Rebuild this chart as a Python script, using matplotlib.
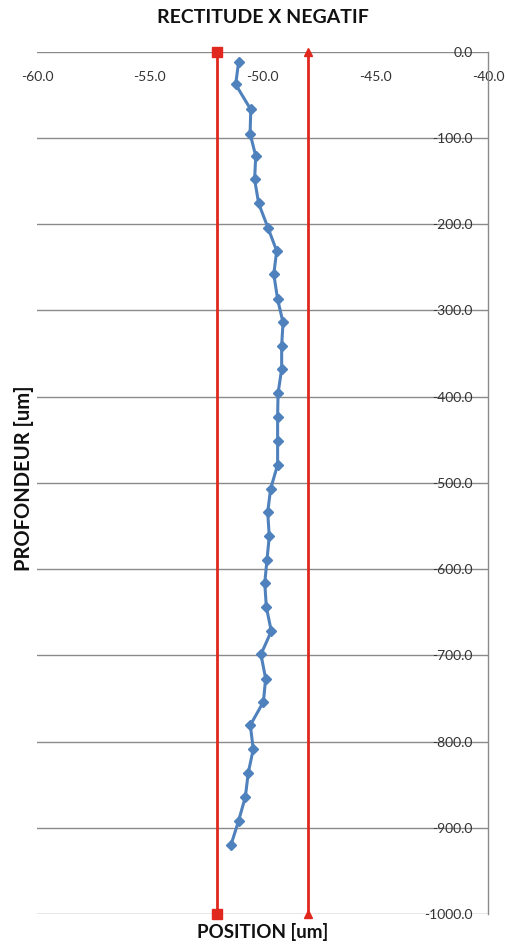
import matplotlib
matplotlib.use("Agg")
import matplotlib.pyplot as plt

plt.rcParams['font.family'] = ['Lato', 'DejaVu Sans']

# Measured straightness profile (position in um vs depth in um)
depth = [-12, -38, -67, -95, -121, -148, -176, -204, -231, -258, -287, -314,
         -341, -368, -396, -424, -451, -479, -507, -534, -562, -589, -616, -644,
         -672, -699, -727, -754, -781, -809, -836, -864, -892, -920]
position = [-51.06, -51.19, -50.52, -50.55, -50.30, -50.35, -50.17, -49.76,
            -49.37, -49.50, -49.33, -49.09, -49.15, -49.15, -49.31, -49.33,
            -49.33, -49.33, -49.64, -49.77, -49.70, -49.80, -49.90, -49.83,
            -49.61, -50.07, -49.86, -49.96, -50.54, -50.41, -50.63, -50.76,
            -51.06, -51.40]

# Tolerance limits
lower_limit = -52.0
upper_limit = -48.0
limit_depth = [0, -1000]

x_ticks = [-60, -55, -50, -45, -40]
y_ticks = [0, -100, -200, -300, -400, -500, -600, -700, -800, -900, -1000]

fig = plt.figure(figsize=(5.05, 9.49), dpi=100)
ax = fig.add_axes([0.0733, 0.0369, 0.893, 0.9086])
ax.set_xlim(-60, -40)
ax.set_ylim(-1000, 0)

for s in ['left', 'top', 'bottom']:
    ax.spines[s].set_visible(False)
ax.spines['right'].set_color('#8a8a8a')
ax.spines['right'].set_linewidth(1.0)

ax.set_yticks(y_ticks)
ax.set_yticklabels([f"{v:.1f}" for v in y_ticks])
ax.yaxis.grid(True, color='#8a8a8a', linewidth=1.0)
ax.set_axisbelow(True)
ax.tick_params(axis='y', left=False, labelleft=False, right=True,
               labelright=True, length=0, pad=-10.8, labelsize=10,
               labelcolor='#333333')
for lab in ax.get_yticklabels():
    lab.set_horizontalalignment('right')

ax.set_xticks(x_ticks)
ax.set_xticklabels([f"{v:.1f}" for v in x_ticks])
ax.tick_params(axis='x', bottom=False, labelbottom=False, top=True,
               labeltop=True, length=0, pad=-14.0, labelsize=10,
               labelcolor='#333333')
for lab in ax.get_xticklabels():
    lab.set_verticalalignment('top')

red = '#E0281E'
ax.plot([lower_limit, lower_limit], limit_depth, color=red, linewidth=2,
        marker='s', markersize=7, clip_on=False, zorder=3)
ax.plot([upper_limit, upper_limit], limit_depth, color=red, linewidth=2,
        marker='^', markersize=6, clip_on=False, zorder=3)

ax.plot(position, depth, color='#4F81BD', linewidth=2.2, marker='D',
        markersize=5.5, zorder=4)

fig.text(0.52, 0.982, 'RECTITUDE X NEGATIF', ha='center', va='center',
         fontsize=14, fontweight='bold', color='#111111')
fig.text(0.52, 0.018, 'POSITION [um]', ha='center', va='center',
         fontsize=13.5, fontweight='bold', color='#111111')
fig.text(0.047, 0.496, 'PROFONDEUR [um]', ha='center', va='center',
         rotation=90, fontsize=14.5, fontweight='bold', color='#111111')

fig.savefig('out.png', dpi=100)
